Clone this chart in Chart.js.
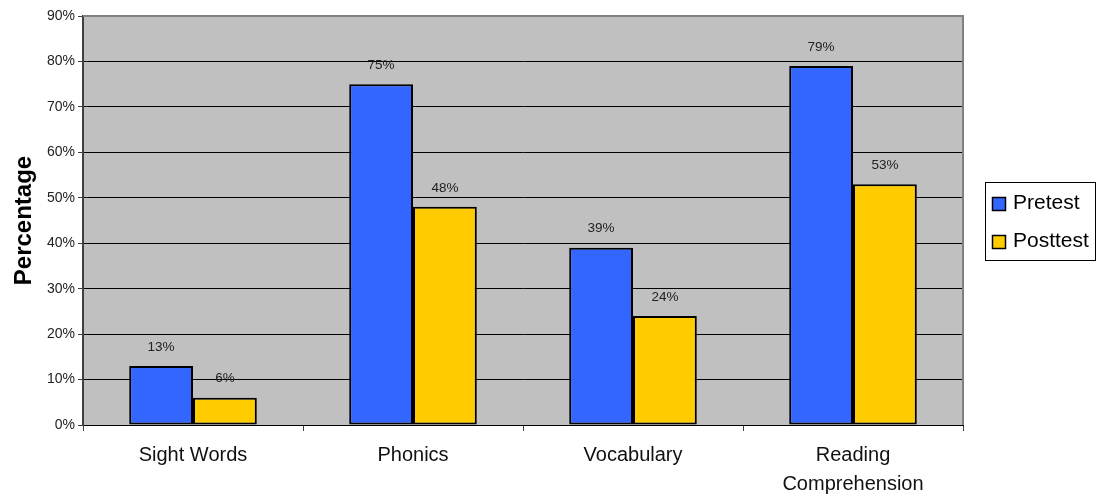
<!DOCTYPE html>
<html>
<head>
<meta charset="utf-8">
<script src="https://cdn.jsdelivr.net/npm/chart.js@4.4.1/dist/chart.umd.min.js"></script>
<style>
  html, body { margin: 0; padding: 0; background: #fff; }
  #wrap { width: 1096px; height: 498px; }
</style>
</head>
<body>
<div id="wrap"><canvas id="chart" width="1096" height="498"></canvas></div>
<script>
const categories = ["Sight Words", "Phonics", "Vocabulary", ["Reading", "Comprehension"]];
const seriesNames = ["Pretest", "Posttest"];
const pretest = [13, 75, 39, 79];
const posttest = [6, 48, 24, 53];
const seriesColors = ["#3366FF", "#FFCC00"];

const FONT = "'Liberation Sans', Arial, sans-serif";

// gray plot background + right border
const plotBackground = {
  id: "plotBackground",
  beforeDraw(chart) {
    const { ctx, chartArea: a } = chart;
    ctx.save();
    ctx.fillStyle = "#C0C0C0";
    ctx.fillRect(a.left, a.top, a.right - a.left, a.bottom - a.top);
    ctx.restore();
  },
  afterDraw(chart) {
    const { ctx, chartArea: a } = chart;
    ctx.save();
    ctx.strokeStyle = "#808080";
    ctx.lineWidth = 2;
    ctx.beginPath();
    ctx.moveTo(a.left, a.top);
    ctx.lineTo(a.right, a.top);
    ctx.lineTo(a.right, a.bottom);
    ctx.stroke();
    ctx.restore();
  },
};

// value labels above bars
const valueLabels = {
  id: "valueLabels",
  afterDatasetsDraw(chart) {
    const { ctx } = chart;
    ctx.save();
    ctx.font = "13.5px " + FONT;
    ctx.fillStyle = "#222";
    ctx.textAlign = "center";
    ctx.textBaseline = "middle";
    chart.data.datasets.forEach((ds, i) => {
      chart.getDatasetMeta(i).data.forEach((bar, j) => {
        ctx.fillText(ds.data[j] + "%", bar.x, bar.y - 19);
      });
    });
    ctx.restore();
  },
};

// boxed legend on the right
const boxLegend = {
  id: "boxLegend",
  afterDraw(chart) {
    const { ctx } = chart;
    ctx.save();
    ctx.strokeStyle = "#000";
    ctx.lineWidth = 1;
    ctx.fillStyle = "#fff";
    ctx.fillRect(985.5, 182.5, 110, 78);
    ctx.strokeRect(985.5, 182.5, 110, 78);
    ctx.font = "21px " + FONT;
    ctx.textBaseline = "middle";
    chart.data.datasets.forEach((ds, i) => {
      const cy = 204 + i * 38;
      ctx.fillStyle = ds.backgroundColor;
      ctx.fillRect(992.5, cy - 6.5, 13, 13);
      ctx.strokeStyle = "#000";
      ctx.lineWidth = 1.5;
      ctx.strokeRect(992.5, cy - 6.5, 13, 13);
      ctx.fillStyle = "#000";
      ctx.fillText(ds.label, 1013, cy - 1);
    });
    ctx.restore();
  },
};

new Chart(document.getElementById("chart").getContext("2d"), {
  type: "bar",
  data: {
    labels: categories,
    datasets: [
      { label: seriesNames[0], data: pretest, backgroundColor: seriesColors[0] },
      { label: seriesNames[1], data: posttest, backgroundColor: seriesColors[1] },
    ],
  },
  options: {
    responsive: false,
    animation: false,
    layout: { padding: { top: 16, right: 133, bottom: 0, left: 0 } },
    datasets: {
      bar: {
        borderColor: "#000",
        borderWidth: 2,
        borderSkipped: false,
        categoryPercentage: 0.58,
        barPercentage: 1,
      },
    },
    plugins: {
      legend: { display: false },
      tooltip: { enabled: false },
    },
    scales: {
      x: {
        offset: true,
        afterFit: (s) => { s.height = 73; },
        grid: {
          offset: true,
          drawOnChartArea: false,
          drawTicks: true,
          tickLength: 6,
          tickColor: "#404040",
        },
        border: { color: "#000", width: 1 },
        ticks: {
          color: "#111",
          font: { family: FONT, size: 20, lineHeight: 1.45 },
          padding: 10,
          maxRotation: 0,
        },
      },
      y: {
        min: 0,
        max: 90,
        afterFit: (s) => { s.width = 83; },
        grid: {
          color: (c) => (c.tick && c.tick.value === 90 ? "#808080" : "#000"),
          lineWidth: 1,
          tickLength: 5,
          tickColor: "#404040",
        },
        border: { color: "#404040", width: 2 },
        ticks: {
          stepSize: 10,
          color: "#222",
          padding: 3,
          font: { family: FONT, size: 14 },
          callback: (v) => v + "%",
        },
        title: {
          display: true,
          text: "Percentage",
          color: "#000",
          font: { family: FONT, size: 24, weight: "bold" },
          padding: { top: 10, bottom: 0 },
        },
      },
    },
  },
  plugins: [plotBackground, valueLabels, boxLegend],
});
</script>
</body>
</html>
